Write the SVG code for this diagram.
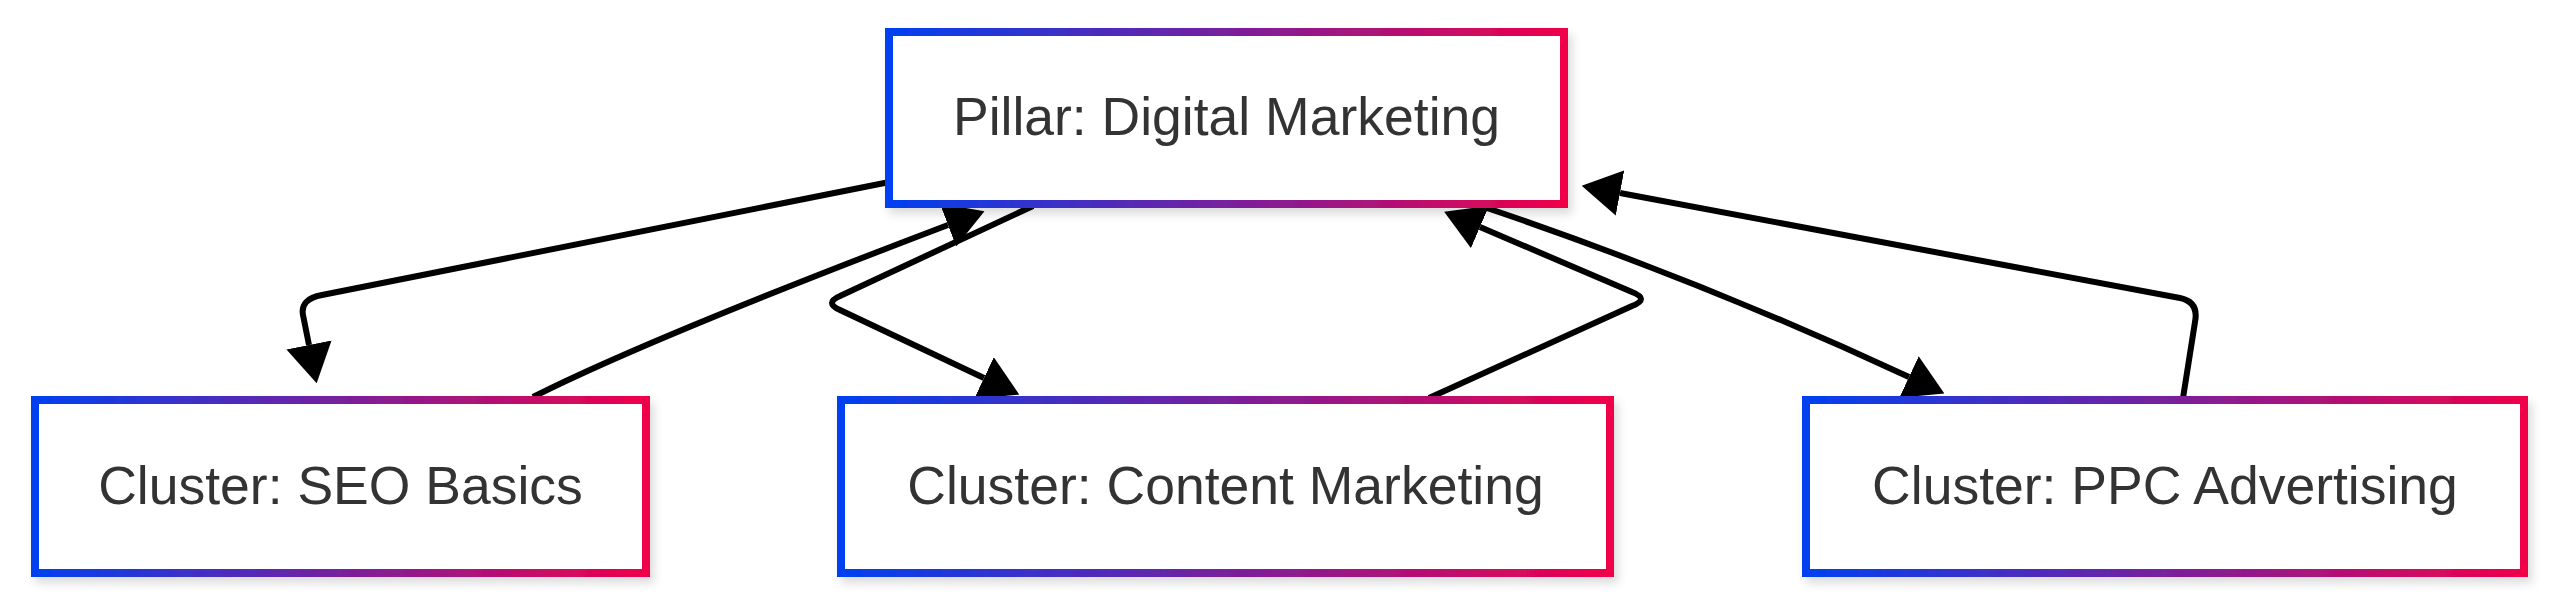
<svg xmlns="http://www.w3.org/2000/svg" width="2560" height="607" viewBox="0 0 2560 607">
  <defs>
    <linearGradient id="grad" x1="0" y1="0" x2="1" y2="0">
      <stop offset="0" stop-color="#0040f0"/>
      <stop offset="1" stop-color="#f0004a"/>
    </linearGradient>
    <filter id="shadow" x="-10%" y="-20%" width="125%" height="150%">
      <feDropShadow dx="4" dy="6" stdDeviation="5" flood-color="#000" flood-opacity="0.14"/>
    </filter>
    <marker id="arrow" markerUnits="userSpaceOnUse" viewBox="0 0 39 46" markerWidth="39" markerHeight="46" refX="0" refY="23" orient="auto">
      <path d="M0,0 L39,23 L0,46 z" fill="#000"/>
    </marker>
    <style>
      .edge { fill: none; stroke: #000; stroke-width: 6; stroke-linecap: butt; stroke-linejoin: round; marker-end: url(#arrow); }
      .box { fill: #fff; stroke: url(#grad); stroke-width: 8; filter: url(#shadow); }
      .label { font-family: "Liberation Sans", Arial, sans-serif; font-size: 53.5px; fill: #333; text-anchor: middle; }
    </style>
  </defs>
  <rect width="2560" height="607" fill="#fff"/>

  <g id="connectors">
    <path class="edge" d="M887,182.5 L322,295 Q300,299 303,315 L309,345"/>
    <path class="edge" d="M533,397 Q650,338 948,225"/>
    <path class="edge" d="M1033,206 L840,296 Q824,303 840,310 L984,378"/>
    <path class="edge" d="M1429,398 L1632,306 Q1650,299 1632,292 L1480,227"/>
    <path class="edge" d="M1484,207 Q1700,280 1909,377"/>
    <path class="edge" d="M2183,398 L2195,322 Q2199,302 2180,298 L1620,193"/>
  </g>

  <g id="pillar">
    <rect class="box" x="889" y="32" width="675" height="172"/>
    <text class="label" x="1226.5" y="135">Pillar: Digital Marketing</text>
  </g>
  <g id="seo">
    <rect class="box" x="35" y="400" width="611" height="173"/>
    <text class="label" x="340.5" y="504">Cluster: SEO Basics</text>
  </g>
  <g id="content">
    <rect class="box" x="841" y="400" width="769" height="173"/>
    <text class="label" x="1225.5" y="504">Cluster: Content Marketing</text>
  </g>
  <g id="ppc">
    <rect class="box" x="1806" y="400" width="718" height="173"/>
    <text class="label" x="2165" y="504">Cluster: PPC Advertising</text>
  </g>
</svg>
